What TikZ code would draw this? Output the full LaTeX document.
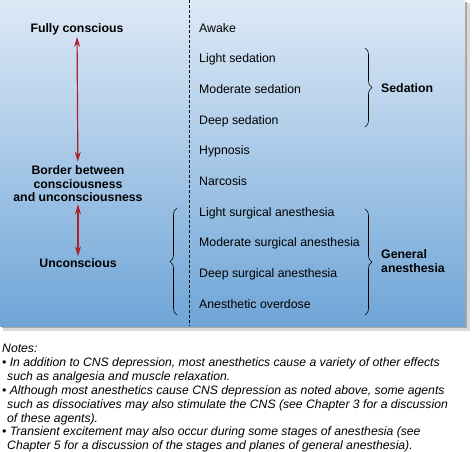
\documentclass[tikz,border=0pt]{standalone}
\usepackage{fontspec}
\setmainfont{Liberation Sans}
\usetikzlibrary{arrows.meta,decorations.pathreplacing}
\definecolor{paneltop}{HTML}{DDE9F6}
\definecolor{panelbot}{HTML}{6FA5D7}
\definecolor{arrowred}{HTML}{B0202A}
\begin{document}
\begin{tikzpicture}[
    x=1pt, y=-1pt,
    every node/.style={font=\fontsize{12.3}{13.6}\selectfont, inner sep=1pt},
    item/.style={anchor=west, text height=9pt, text depth=2.6pt},
    state/.style={font=\fontsize{12.3}{13.6}\selectfont\bfseries, align=center},
    group/.style={anchor=west, font=\fontsize{12.3}{13.8}\selectfont\bfseries, align=left},
    updown/.style={draw=arrowred, line width=1.2pt, {Stealth[length=10pt,width=6pt]}-{Stealth[length=10pt,width=6pt]}},
    brace/.style={draw, semithick, decorate, decoration={brace, amplitude=7pt}},
    notes/.style={anchor=north west, inner sep=0pt, align=left,
      font=\fontsize{12.2}{13.9}\selectfont\itshape}
  ]
  \useasboundingbox (0,0) rectangle (472,452);
  % panel and its shadow
  \fill[black!15] (3,3) rectangle (470,331);
  \fill[black!35] (2,2) rectangle (467,328);
  \shade[top color=paneltop, bottom color=panelbot] (0,0) rectangle (465,326);
  \coordinate (divtop) at (189,0);
  \coordinate (divbot) at (189,326);
  \draw[dash pattern=on 3pt off 2pt] (divtop) -- (divbot);
  % levels of CNS depression
  \foreach \lvl [count=\i] in {Awake, Light sedation, Moderate sedation,
      Deep sedation, Hypnosis, Narcosis, Light surgical anesthesia,
      Moderate surgical anesthesia, Deep surgical anesthesia,
      Anesthetic overdose}
    \node[item] (lvl\i) at (198, {29+30.65*(\i-1)}) {\lvl};
  % states of consciousness
  \node[state] (full) at (77,29) {Fully conscious};
  \node[state] (border) at (78,184) {Border between\\consciousness\\and unconsciousness};
  \node[state] (uncon) at (78,263) {Unconscious};
  \draw[updown, shorten <=1pt, shorten >=3pt] (full) -- (border);
  \draw[updown, shorten <=1pt, shorten >=1pt] (border) -- (uncon);
  % groups
  \coordinate (sedtop) at (365,48);
  \coordinate (sedbot) at (365,127);
  \coordinate (gentop) at (365,209);
  \coordinate (genbot) at (365,315);
  \coordinate (untop) at (177,208);
  \coordinate (unbot) at (177,315);
  \draw[brace] (sedtop) -- (sedbot);
  \draw[brace] (gentop) -- (genbot);
  \draw[brace] (unbot) -- (untop);
  \node[group] (sed) at (380,88) {Sedation};
  \node[group] (gen) at (380,261) {General\\anesthesia};
  % notes
  \node[notes] (notes) at (2,344) {Notes:\\
    • In addition to CNS depression, most anesthetics cause a variety of other effects\\
    \hspace*{5pt}such as analgesia and muscle relaxation.\\
    • Although most anesthetics cause CNS depression as noted above, some agents\\
    \hspace*{5pt}such as dissociatives may also stimulate the CNS (see Chapter 3 for a discussion\\
    \hspace*{5pt}of these agents).\\
    • Transient excitement may also occur during some stages of anesthesia (see\\
    \hspace*{5pt}Chapter 5 for a discussion of the stages and planes of general anesthesia).};
\end{tikzpicture}
\end{document}
